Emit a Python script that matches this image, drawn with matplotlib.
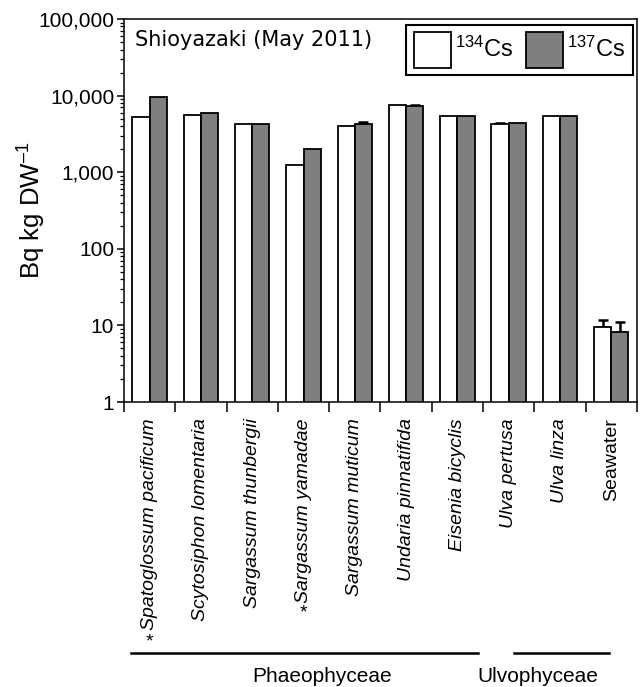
import matplotlib
matplotlib.use("Agg")
import matplotlib.pyplot as plt
import matplotlib.transforms as mtransforms
from matplotlib.lines import Line2D
from matplotlib.ticker import FixedLocator, FuncFormatter, NullFormatter, LogLocator
import numpy as np

plt.rcParams['font.family'] = ['Liberation Sans', 'DejaVu Sans']
plt.rcParams['mathtext.fontset'] = 'custom'
plt.rcParams['mathtext.rm'] = 'Liberation Sans'
plt.rcParams['mathtext.it'] = 'Liberation Sans:italic'

# Дані
species = ["Spatoglossum pacificum", "Scytosiphon lomentaria", "Sargassum thunbergii",
           "Sargassum yamadae", "Sargassum muticum", "Undaria pinnatifida",
           "Eisenia bicyclis", "Ulva pertusa", "Ulva linza", "Seawater"]
cs134 = [5300, 5600, 4300, 1260, 4070, 7600, 5490, 4200, 5490, 9.5]
cs137 = [9500, 5850, 4300, 2020, 4280, 7250, 5490, 4350, 5490, 8.3]
cs134_err = [0, 0, 0, 0, 0, 0, 0, 250, 0, 2.3]
cs137_err = [0, 0, 0, 0, 250, 400, 0, 0, 0, 2.9]
marked = ["Spatoglossum pacificum", "Sargassum yamadae"]
groups = ["Phaeophyceae", "Ulvophyceae"]
yticks = [1, 10, 100, 1000, 10000, 100000]

fig = plt.figure(figsize=(6.44, 6.87), dpi=100)
ax = fig.add_axes([0.1925, 0.4148, 0.7965, 0.5575])

x = np.arange(len(species))
w = 0.335
ax.bar(x - w / 2, cs134, w, color="white", edgecolor="black", linewidth=1.3,
       label="$^{134}$Cs", zorder=2)
ax.bar(x + w / 2, cs137, w, color="#7f7f7f", edgecolor="black", linewidth=1.3,
       label="$^{137}$Cs", zorder=2)
for i in range(len(species)):
    if cs134_err[i] > 0:
        ax.errorbar(x[i] - w / 2, cs134[i], yerr=[[0], [cs134_err[i]]], fmt="none",
                    ecolor="black", elinewidth=1.8, capsize=3.5, capthick=1.8, zorder=1)
    if cs137_err[i] > 0:
        ax.errorbar(x[i] + w / 2, cs137[i], yerr=[[0], [cs137_err[i]]], fmt="none",
                    ecolor="black", elinewidth=1.8, capsize=3.5, capthick=1.8, zorder=1)

ax.set_yscale("log")
ax.set_ylim(1, 100000)
ax.set_xlim(-0.5, len(species) - 0.5)
ax.yaxis.set_major_locator(FixedLocator(yticks))
ax.yaxis.set_major_formatter(FuncFormatter(lambda v, p: f"{int(v):,}"))
ax.yaxis.set_minor_locator(LogLocator(base=10, subs=np.arange(2, 10)))
ax.yaxis.set_minor_formatter(NullFormatter())
ax.tick_params(axis="y", which="major", length=5, width=1.1, labelsize=15, pad=2)
ax.tick_params(axis="y", which="minor", length=3.2, width=0.9)

ax.set_xticks(x)
ax.set_xticklabels(species, rotation=90, fontsize=14, va="top", ha="center")
for lbl in ax.get_xticklabels():
    if lbl.get_text() != "Seawater":
        lbl.set_fontstyle("italic")
ax.xaxis.set_minor_locator(FixedLocator(np.arange(len(species) + 1) - 0.5))
ax.xaxis.set_minor_formatter(NullFormatter())
ax.tick_params(axis="x", which="major", length=0, pad=11.5)
ax.tick_params(axis="x", which="minor", length=7, width=1.1)

for s in ax.spines.values():
    s.set_linewidth(1.1)

ax.set_ylabel("Bq kg DW$^{\\mathregular{\u20131}}$", fontsize=18.5)
ax.yaxis.set_label_coords(-0.148, 0.5)

ax.text(0.022, 0.945, "Shioyazaki (May 2011)", transform=ax.transAxes,
        fontsize=15, family="DejaVu Sans", ha="left", va="center")

leg = ax.legend(loc="upper right", bbox_to_anchor=(0.992, 0.985), borderaxespad=0,
                ncol=2, fontsize=17, handlelength=1.57, handleheight=1.97,
                handletextpad=0.2, columnspacing=0.5, borderpad=0.3,
                fancybox=False, framealpha=1, edgecolor="black")
leg.get_frame().set_linewidth(1.5)

# Зірочки та групи
trans = mtransforms.blended_transform_factory(ax.transData, fig.transFigure)
ax.text(species.index(marked[0]), 1 - 642 / 687, "*", transform=trans, fontsize=14,
        ha="center", va="center")
ax.text(species.index(marked[1]), 1 - 613 / 687, "*", transform=trans, fontsize=14,
        ha="center", va="center")

for x0, x1, name, xc in [(-0.37, 6.4, groups[0], 3.36), (7.1, 8.95, groups[1], 7.57)]:
    ln = Line2D([x0, x1], [1 - 653 / 687] * 2, transform=trans, color="black",
                linewidth=1.8, clip_on=False)
    fig.add_artist(ln)
    ax.text(xc, 1 - 676 / 687, name, transform=trans, fontsize=15,
            ha="center", va="center")

plt.savefig("out.png", dpi=100)
